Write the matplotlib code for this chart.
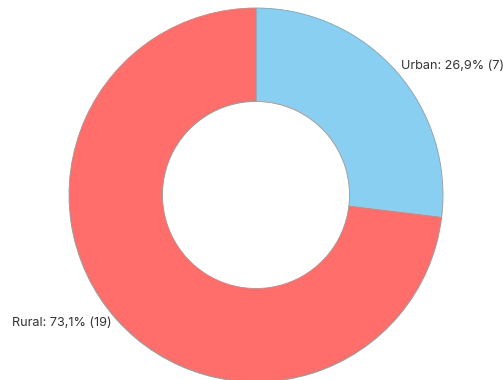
import matplotlib.pyplot as plt

labels = ["Urban", "Rural"]
counts = [7, 19]
colors = ["#89CFF2", "#FF6E6B"]

total = sum(counts)

fig = plt.figure(figsize=(5.03, 3.8), dpi=100)
ax = fig.add_axes([69 / 503, -2 / 380, 374 / 503, 374 / 380])

wedges, _ = ax.pie(counts, colors=colors, startangle=90, counterclock=False,
                   radius=1.0,
                   wedgeprops=dict(width=0.5, edgecolor="#9a9a9a", linewidth=0.6))
for w in wedges:
    w.set_clip_on(False)

ax.set_xlim(-1, 1)
ax.set_ylim(-1, 1)
ax.set_aspect("equal")
ax.axis("off")

### ラベルの位置 (データ座標)
label_pos = [(0.775, 0.69), (-1.305, -0.684)]
for name, n, (x, y) in zip(labels, counts, label_pos):
    pct = f"{100 * n / total:.1f}".replace(".", ",")
    ax.text(x, y, f"{name}: {pct}% ({n})", ha="left", va="center",
            fontsize=9.1, color="#333333", family=["Inter", "DejaVu Sans"],
            clip_on=False)

fig.savefig("out.png", dpi=100)
